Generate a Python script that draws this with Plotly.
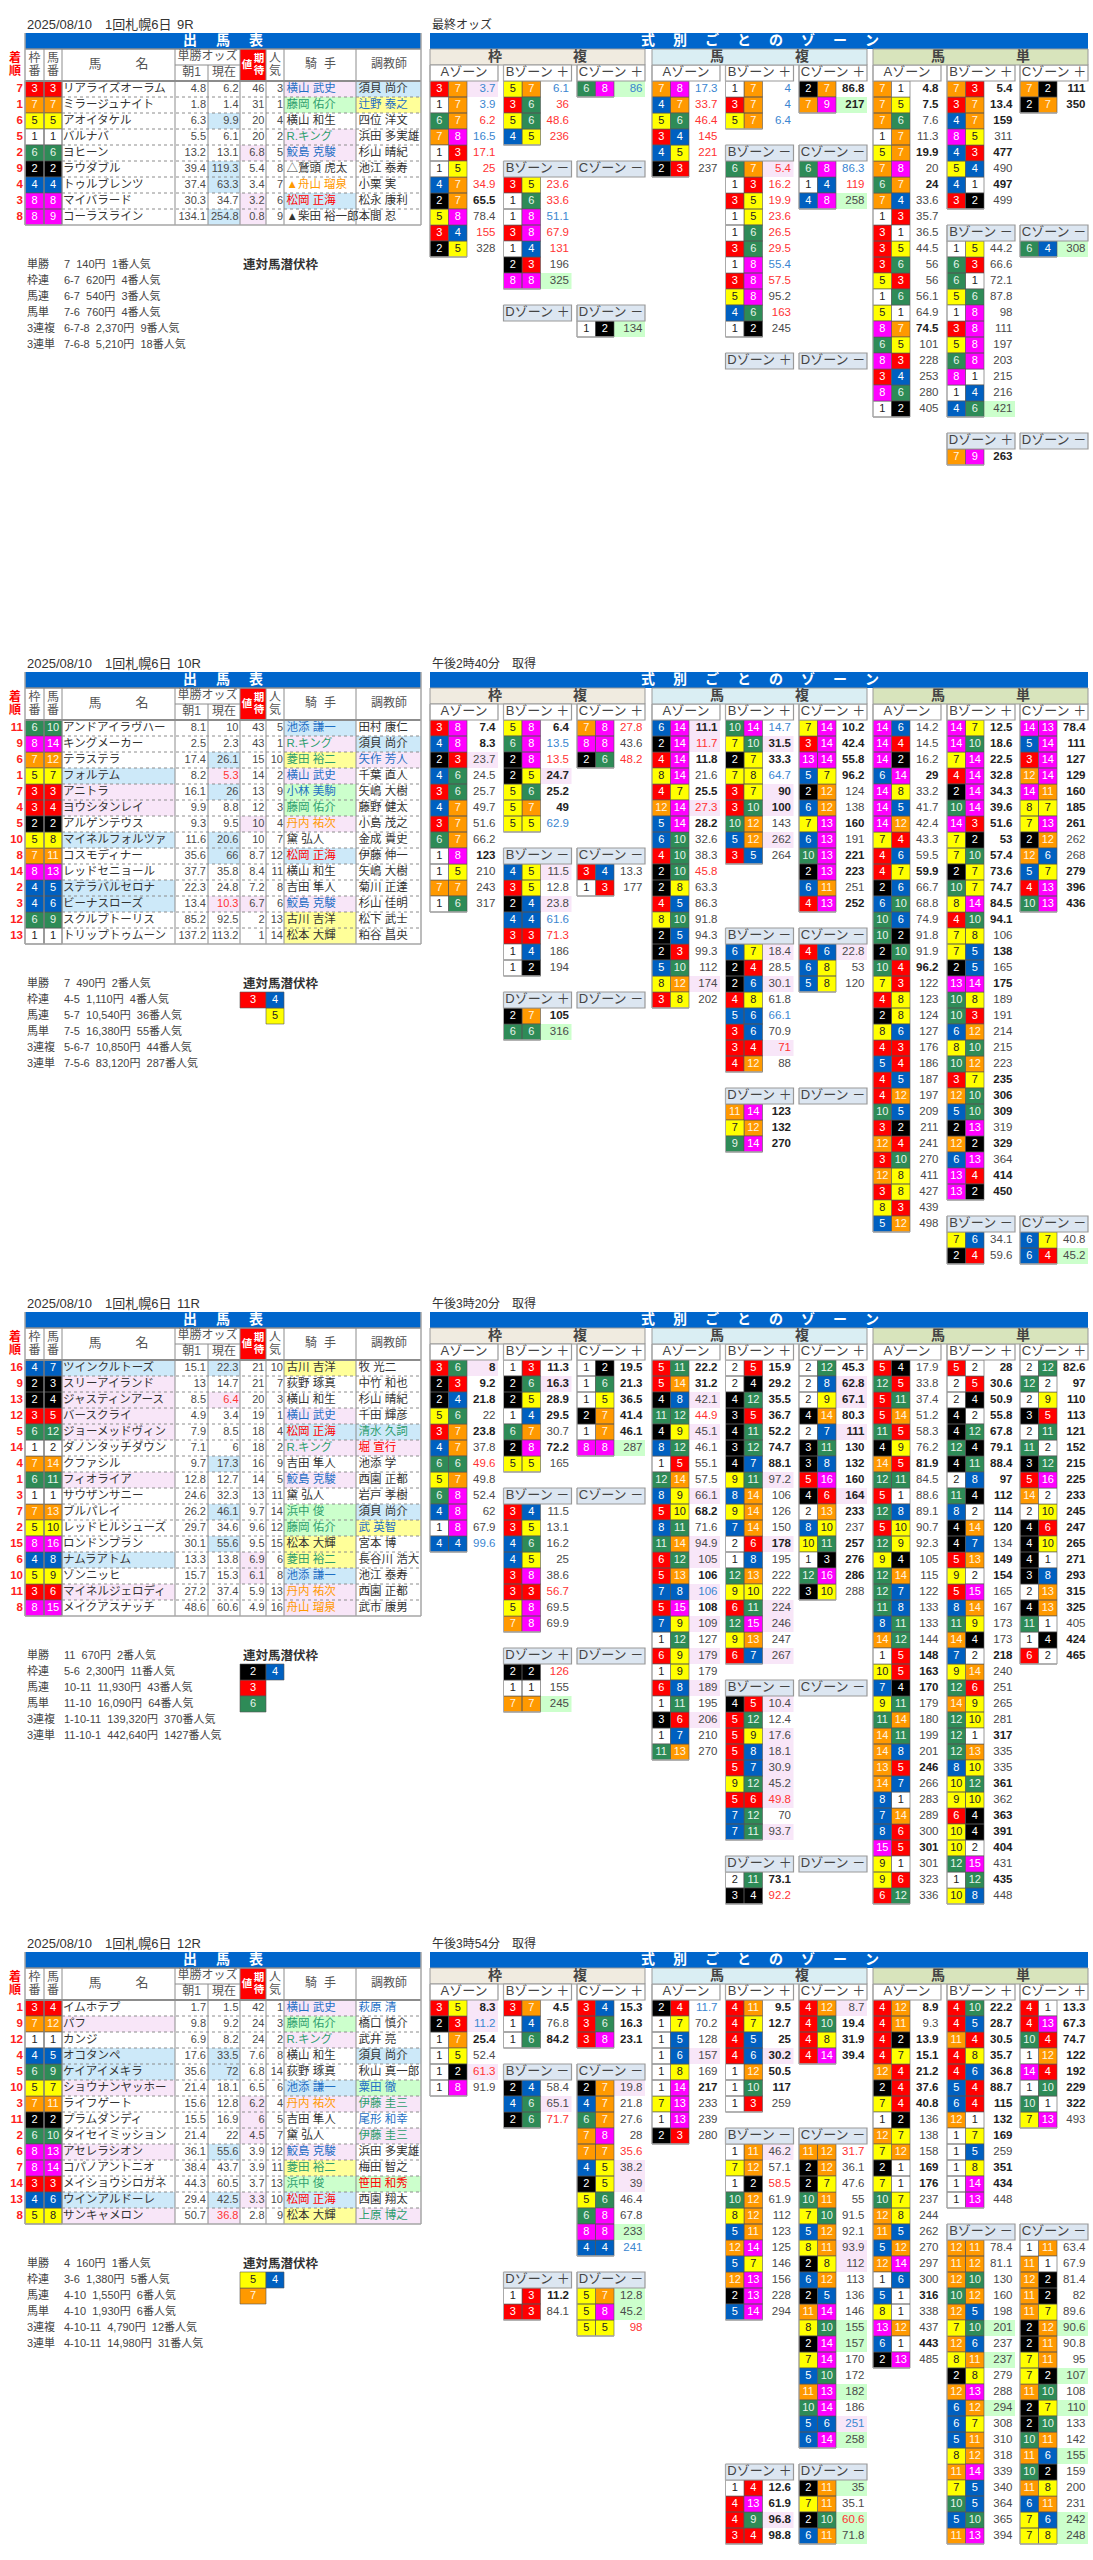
import plotly.graph_objects as go

FONT = "Liberation Sans, Noto Sans CJK JP"
WIDTH = 1093
HEIGHT = 2560
ROW_H = 16
FIRST_ROW_Y = 81
MAX_ZONE_ROWS = 34

RACE_IDS = [9, 10, 11, 12]
PANEL_OFFSETS = [0, 639, 1279, 1919]

PAY_LABELS = ["単勝", "枠連", "馬連", "馬単", "3連複", "3連単"]

# ---- 9R ----
R9_HEAD = ["2025/08/10", "1回札幌6日", "9R", "最終オッズ"]
R9_FINISH = [7, 1, 6, 5, 2, 9, 4, 3, 8]
R9_WAKU = [3, 7, 5, 1, 6, 2, 4, 8, 8]
R9_UMA = [3, 7, 5, 1, 6, 2, 4, 8, 9]
R9_NAME = ["リアライズオーラム", "ミラージュナイト", "アオイタケル", "バルナバ", "ヨヒーン", "ラウダブル", "トゥルブレンツ", "マイバラード", "コーラスライン"]
R9_MORNING = [4.8, 1.8, 6.3, 5.5, 13.2, 39.4, 37.4, 30.3, 134.1]
R9_NOW = [6.2, 1.4, 9.9, 6.1, 13.1, 119.3, 63.3, 34.7, 254.8]
R9_EV = [46, 31, 20, 20, 6.8, 5.4, 3.4, 3.2, 0.8]
R9_POP = [3, 1, 4, 2, 5, 8, 7, 6, 9]
R9_JOCKEY = ["横山 武史", "藤岡 佑介", "横山 和生", "R.キング", "鮫島 克駿", "△鷲頭 虎太", "▲舟山 瑠泉", "松岡 正海", "▲柴田 裕一郎"]
R9_TRAINER = ["須貝 尚介", "辻野 泰之", "四位 洋文", "浜田 多実雄", "杉山 晴紀", "池江 泰寿", "小栗 実", "松永 康利", "本間 忍"]
R9_PAY = ["7 140円 1番人気", "6-7 620円 4番人気", "6-7 540円 3番人気", "7-6 760円 4番人気", "6-7-8 2,370円 9番人気", "7-6-8 5,210円 18番人気"]
R9_HIDDEN = []
R9_NAME_BG = "........."
R9_NOW_BG = "..l..ll.l"
R9_EV_BG = "....p..pp"
R9_JOCKEY_BG = "pg.pp..l."
R9_JOCKEY_FG = "bgkgbkork"
R9_TRAINER_BG = "ly......."
R9_TRAINER_FG = "kbkkkkkkk"

R9_WAKU_A = [(3, 7, 3.7), (1, 7, 3.9), (6, 7, 6.2), (7, 8, 16.5), (1, 3, 17.1), (1, 5, 25), (4, 7, 34.9), (2, 7, 65.5), (5, 8, 78.4), (3, 4, 155), (2, 5, 328)]
R9_WAKU_A_STYLE = "bp b r b r r r k n r n"
R9_WAKU_BP = [(5, 7, 6.1), (3, 6, 36), (5, 6, 48.6), (4, 5, 236)]
R9_WAKU_BP_STYLE = "b r r r"
R9_WAKU_CP = [(6, 8, 86)]
R9_WAKU_CP_STYLE = "bg"
R9_WAKU_BM = [(3, 5, 23.6), (1, 6, 33.6), (1, 8, 51.1), (3, 8, 67.9), (1, 4, 131), (2, 3, 196), (8, 8, 325)]
R9_WAKU_BM_STYLE = "r r b r r n ng"
R9_WAKU_DM = [(1, 2, 134)]
R9_WAKU_DM_STYLE = "ng"

R9_FUKU_A = [(7, 8, 17.3), (4, 7, 33.7), (5, 6, 46.4), (3, 4, 145), (4, 5, 221), (2, 3, 237)]
R9_FUKU_A_STYLE = "b r r r r n"
R9_FUKU_BP = [(1, 7, 4), (3, 7, 4), (5, 7, 6.4)]
R9_FUKU_BP_STYLE = "b b b"
R9_FUKU_CP = [(2, 7, 86.8), (7, 9, 217)]
R9_FUKU_CP_STYLE = "k kg"
R9_FUKU_BM = [(6, 7, 5.4), (1, 3, 16.2), (3, 5, 19.9), (1, 5, 23.6), (1, 6, 26.5), (3, 6, 29.5), (1, 8, 55.4), (3, 8, 57.5), (5, 8, 95.2), (4, 6, 163), (1, 2, 245)]
R9_FUKU_BM_STYLE = "rp r r r r r b r n r n"
R9_FUKU_CM = [(6, 8, 86.3), (1, 4, 119), (4, 8, 258)]
R9_FUKU_CM_STYLE = "b r ng"

R9_TAN_A = [(7, 1, 4.8), (7, 5, 7.5), (7, 6, 7.6), (1, 7, 11.3), (5, 7, 19.9), (7, 8, 20), (6, 7, 24), (7, 4, 33.6), (1, 3, 35.7), (3, 1, 36.5), (3, 5, 44.5), (3, 6, 56), (5, 3, 56), (1, 6, 56.1), (5, 1, 64.9), (8, 7, 74.5), (6, 5, 101), (8, 3, 228), (3, 4, 253), (8, 6, 280), (1, 2, 405)]
R9_TAN_A_STYLE = "k k n n k n k n n n n n n n n k n n n n n"
R9_TAN_BP = [(7, 3, 5.4), (3, 7, 13.4), (4, 7, 159), (8, 5, 311), (4, 3, 477), (5, 4, 490), (4, 1, 497), (3, 2, 499)]
R9_TAN_BP_STYLE = "k k k n k n k n"
R9_TAN_CP = [(7, 2, 111), (2, 7, 350)]
R9_TAN_CP_STYLE = "k k"
R9_TAN_BM = [(1, 5, 44.2), (6, 3, 66.6), (6, 1, 72.1), (5, 6, 87.8), (1, 8, 98), (3, 8, 111), (5, 8, 197), (6, 8, 203), (8, 1, 215), (1, 4, 216), (4, 6, 421)]
R9_TAN_BM_STYLE = "n n n n n n n n n n ng"
R9_TAN_CM = [(6, 4, 308)]
R9_TAN_CM_STYLE = "ng"
R9_TAN_DP = [(7, 9, 263)]
R9_TAN_DP_STYLE = "k"

# ---- 10R ----
R10_HEAD = ["2025/08/10", "1回札幌6日", "10R", "午後2時40分　取得"]
R10_FINISH = [11, 9, 6, 1, 7, 4, 5, 10, 8, 14, 2, 3, 12, 13]
R10_WAKU = [6, 8, 7, 5, 3, 3, 2, 5, 7, 8, 4, 4, 6, 1]
R10_UMA = [10, 14, 12, 7, 3, 4, 2, 8, 11, 13, 5, 6, 9, 1]
R10_NAME = ["アンドアイラヴハー", "キングメーカー", "テラステラ", "フォルテム", "アニトラ", "ヨウシタンレイ", "アルゲンテウス", "マイネルフォルツァ", "コスモディナー", "レッドセニョール", "ステラバルセロナ", "ビーナスローズ", "スクルプトーリス", "トリップトゥムーン"]
R10_MORNING = [8.1, 2.5, 17.4, 8.2, 16.1, 9.9, 9.3, 11.6, 35.6, 37.7, 22.3, 13.4, 85.2, 137.2]
R10_NOW = [10, 2.3, 26.1, 5.3, 26, 8.8, 9.5, 20.6, 66, 35.8, 24.8, 10.3, 92.5, 113.2]
R10_EV = [43, 43, 15, 14, 13, 12, 10, 10, 8.7, 8.4, 7.2, 6.7, 2, 1]
R10_POP = [5, 1, 10, 2, 9, 3, 4, 7, 12, 11, 8, 6, 13, 14]
R10_JOCKEY = ["池添 謙一", "R.キング", "菱田 裕二", "横山 武史", "小林 美駒", "藤岡 佑介", "丹内 祐次", "黛 弘人", "松岡 正海", "横山 和生", "吉田 隼人", "鮫島 克駿", "古川 吉洋", "松本 大輝"]
R10_TRAINER = ["田村 康仁", "須貝 尚介", "矢作 芳人", "千葉 直人", "矢嶋 大樹", "藤野 健太", "小島 茂之", "金成 貴史", "伊藤 伸一", "矢嶋 大樹", "菊川 正達", "杉山 佳明", "松下 武士", "粕谷 昌央"]
R10_PAY = ["7 490円 2番人気", "4-5 1,110円 4番人気", "5-7 10,540円 36番人気", "7-5 16,380円 55番人気", "5-6-7 10,850円 44番人気", "7-5-6 83,120円 287番人気"]
R10_HIDDEN = [[3, 4], [0, 5]]
R10_NAME_BG = "...lpp.l..ll.."
R10_NOW_BG = "..lpl..ll..p.."
R10_EV_BG = "......p....p.."
R10_JOCKEY_BG = "lpypggp.l..pyy"
R10_JOCKEY_FG = "bggbbgokrkkbkk"
R10_TRAINER_BG = ".lp..........."
R10_TRAINER_FG = "kkbkkkkkkkkkkk"

R10_WAKU_A = [(3, 8, 7.4), (4, 8, 8.3), (2, 3, 23.7), (4, 6, 24.5), (3, 6, 25.7), (4, 7, 49.7), (3, 7, 51.6), (6, 7, 66.2), (1, 8, 123), (1, 5, 210), (7, 7, 243), (1, 6, 317)]
R10_WAKU_A_STYLE = "k k np n n n n n k n n n"
R10_WAKU_BP = [(5, 8, 6.4), (6, 8, 13.5), (2, 8, 13.5), (2, 5, 24.7), (5, 6, 25.2), (5, 7, 49), (5, 5, 62.9)]
R10_WAKU_BP_STYLE = "k b r kp k k b"
R10_WAKU_CP = [(7, 8, 27.8), (8, 8, 43.6), (2, 6, 48.2)]
R10_WAKU_CP_STYLE = "r n r"
R10_WAKU_BM = [(4, 5, 11.5), (3, 5, 12.8), (2, 4, 23.8), (4, 4, 61.6), (3, 3, 71.3), (1, 4, 186), (1, 2, 194)]
R10_WAKU_BM_STYLE = "np n np b r n n"
R10_WAKU_CM = [(3, 4, 13.3), (1, 3, 177)]
R10_WAKU_CM_STYLE = "n n"
R10_WAKU_DP = [(2, 7, 105), (6, 6, 316)]
R10_WAKU_DP_STYLE = "k ng"

R10_FUKU_A = [(6, 14, 11.1), (2, 14, 11.7), (4, 14, 11.8), (8, 14, 21.6), (4, 7, 25.5), (12, 14, 27.3), (5, 14, 28.2), (6, 10, 32.6), (4, 10, 38.3), (2, 10, 45.8), (2, 8, 63.3), (4, 5, 86.3), (8, 10, 91.8), (2, 5, 94.3), (2, 3, 99.3), (5, 10, 112), (8, 12, 174), (3, 8, 202)]
R10_FUKU_A_STYLE = "kp rp k n k rp k n n r n n n n n n np n"
R10_FUKU_BP = [(10, 14, 14.7), (7, 10, 31.5), (2, 7, 33.3), (7, 8, 64.7), (3, 7, 90), (3, 10, 100), (10, 12, 143), (5, 12, 262), (3, 5, 264)]
R10_FUKU_BP_STYLE = "b kp k b kp kp n np n"
R10_FUKU_CP = [(7, 14, 10.2), (3, 14, 42.4), (13, 14, 55.8), (5, 7, 96.2), (2, 12, 124), (6, 12, 138), (7, 13, 160), (6, 13, 191), (10, 13, 221), (2, 13, 223), (6, 11, 251), (4, 13, 252)]
R10_FUKU_CP_STYLE = "k k k k n n k n k k n k"
R10_FUKU_BM = [(6, 7, 18.4), (2, 4, 28.5), (2, 6, 30.1), (4, 8, 61.8), (5, 6, 66.1), (3, 6, 70.9), (3, 4, 71), (4, 12, 88)]
R10_FUKU_BM_STYLE = "np n np n b n rp n"
R10_FUKU_CM = [(4, 6, 22.8), (6, 8, 53), (5, 8, 120)]
R10_FUKU_CM_STYLE = "np n n"
R10_FUKU_DP = [(11, 14, 123), (7, 12, 132), (9, 14, 270)]
R10_FUKU_DP_STYLE = "k k k"

R10_TAN_A = [(14, 6, 14.2), (14, 4, 14.5), (14, 2, 16.2), (6, 14, 29), (14, 8, 33.2), (14, 5, 41.7), (14, 12, 42.4), (7, 4, 43.3), (4, 6, 59.5), (4, 7, 59.9), (2, 6, 66.7), (6, 10, 68.8), (10, 6, 74.9), (10, 2, 91.8), (2, 10, 91.9), (10, 4, 96.2), (7, 3, 122), (4, 8, 123), (2, 8, 124), (8, 6, 127), (4, 3, 176), (5, 4, 186), (4, 5, 187), (4, 12, 197), (10, 5, 209), (3, 2, 211), (12, 4, 241), (3, 10, 270), (12, 8, 411), (3, 8, 427), (8, 3, 439), (5, 12, 498)]
R10_TAN_A_STYLE = "n n n k n n n n n k n n n n n k n n n n n n n n n n n n n n n n"
R10_TAN_BP = [(14, 7, 12.5), (14, 10, 18.6), (7, 14, 22.5), (4, 14, 32.8), (2, 14, 34.3), (10, 14, 39.6), (14, 3, 51.6), (7, 2, 53), (7, 10, 57.4), (2, 7, 73.6), (10, 7, 74.7), (8, 14, 84.5), (4, 10, 94.1), (7, 8, 106), (7, 5, 138), (2, 5, 165), (13, 14, 175), (10, 8, 189), (10, 3, 191), (6, 12, 214), (8, 10, 215), (10, 12, 223), (3, 7, 235), (12, 10, 306), (5, 10, 309), (2, 13, 319), (12, 2, 329), (6, 13, 364), (13, 4, 414), (13, 2, 450)]
R10_TAN_BP_STYLE = "k k k k k k k k k k k k k n k n k n n n n n k k k n k n k k"
R10_TAN_CP = [(14, 13, 78.4), (5, 14, 111), (3, 14, 127), (12, 14, 129), (14, 11, 160), (8, 7, 185), (7, 13, 261), (2, 12, 262), (12, 6, 268), (5, 7, 279), (4, 13, 396), (10, 13, 436)]
R10_TAN_CP_STYLE = "k k k k k k k n n k k k"
R10_TAN_BM = [(7, 6, 34.1), (2, 4, 59.6)]
R10_TAN_BM_STYLE = "n n"
R10_TAN_CM = [(6, 7, 40.8), (6, 4, 45.2)]
R10_TAN_CM_STYLE = "n ng"

# ---- 11R ----
R11_HEAD = ["2025/08/10", "1回札幌6日", "11R", "午後3時20分　取得"]
R11_FINISH = [16, 9, 13, 12, 5, 14, 4, 1, 3, 7, 2, 15, 6, 10, 11, 8]
R11_WAKU = [4, 2, 2, 3, 6, 1, 7, 6, 1, 7, 5, 8, 4, 5, 3, 8]
R11_UMA = [7, 3, 4, 5, 12, 2, 14, 11, 1, 13, 10, 16, 8, 9, 6, 15]
R11_NAME = ["ツインクルトーズ", "スリーアイランド", "ジャスティンアース", "バースクライ", "ジョーメッドヴィン", "ダノンタッチダウン", "クファシル", "フィオライア", "サウザンサニー", "ブルパレイ", "レッドヒルシューズ", "ロンドンプラン", "ナムラアトム", "ゾンニッヒ", "マイネルジェロディ", "メイクアスナッチ"]
R11_MORNING = [15.1, 13, 8.5, 4.9, 7.9, 7.1, 9.7, 12.8, 24.6, 26.2, 29.7, 30.1, 13.3, 15.7, 27.2, 48.6]
R11_NOW = [22.3, 14.7, 6.4, 3.4, 8.5, 6, 17.3, 12.7, 32.3, 46.1, 34.6, 55.6, 13.8, 15.3, 37.4, 60.6]
R11_EV = [21, 21, 20, 19, 18, 18, 16, 14, 13, 9.7, 9.6, 9.5, 6.9, 6.1, 5.9, 4.9]
R11_POP = [10, 7, 3, 1, 4, 2, 9, 5, 11, 14, 12, 15, 6, 8, 13, 16]
R11_JOCKEY = ["古川 吉洋", "荻野 琢真", "横山 和生", "横山 武史", "松岡 正海", "R.キング", "吉田 隼人", "鮫島 克駿", "黛 弘人", "浜中 俊", "藤岡 佑介", "松本 大輝", "菱田 裕二", "池添 謙一", "丹内 祐次", "舟山 瑠泉"]
R11_TRAINER = ["牧 光二", "中竹 和也", "杉山 晴紀", "千田 輝彦", "清水 久詞", "堀 宣行", "池添 学", "西園 正都", "岩戸 孝樹", "須貝 尚介", "武 英智", "宮本 博", "長谷川 浩大", "池江 泰寿", "西園 正都", "武市 康男"]
R11_PAY = ["11 670円 2番人気", "5-6 2,300円 11番人気", "10-11 11,930円 43番人気", "11-10 16,090円 64番人気", "1-10-11 139,320円 370番人気", "11-10-1 442,640円 1427番人気"]
R11_HIDDEN = [[2, 4], [3, 0], [6, 0]]
R11_NAME_BG = "lpppp..p....l.p."
R11_NOW_BG = "l.p...l..l.l...."
R11_EV_BG = "............pp.."
R11_JOCKEY_BG = "y..plp.p.ggyylpp"
R11_JOCKEY_FG = "kkkbrgkbkggkgboo"
R11_TRAINER_BG = "....lp...ly....."
R11_TRAINER_FG = "kkkkgrkkkkbkkkkk"

R11_WAKU_A = [(3, 6, 8), (2, 3, 9.2), (2, 4, 21.8), (5, 6, 22), (3, 7, 23.8), (4, 7, 37.8), (6, 6, 49.6), (5, 7, 49.8), (6, 8, 52.4), (4, 8, 62), (1, 8, 67.9), (4, 4, 99.6)]
R11_WAKU_A_STYLE = "kp k k n k n r n n n n b"
R11_WAKU_BP = [(1, 3, 11.3), (2, 6, 16.3), (2, 5, 28.9), (1, 4, 29.5), (6, 7, 30.7), (2, 8, 72.2), (5, 5, 165)]
R11_WAKU_BP_STYLE = "k kp k k n k n"
R11_WAKU_CP = [(1, 2, 19.5), (1, 6, 21.3), (1, 5, 36.5), (2, 7, 41.4), (1, 7, 46.1), (8, 8, 287)]
R11_WAKU_CP_STYLE = "k k k k k ng"
R11_WAKU_BM = [(3, 4, 11.5), (3, 5, 13.1), (4, 6, 16.2), (4, 5, 25), (3, 8, 38.6), (3, 3, 56.7), (5, 8, 69.5), (7, 8, 69.9)]
R11_WAKU_BM_STYLE = "n n n n n r n n"
R11_WAKU_DP = [(2, 2, 126), (1, 1, 155), (7, 7, 245)]
R11_WAKU_DP_STYLE = "r n ng"

R11_FUKU_A = [(5, 11, 22.2), (5, 14, 31.2), (4, 8, 42.1), (11, 12, 44.9), (4, 9, 45.1), (8, 12, 46.1), (1, 5, 55.1), (12, 14, 57.5), (8, 9, 66.1), (5, 10, 68.2), (8, 11, 71.6), (11, 14, 94.9), (6, 12, 105), (5, 13, 106), (7, 8, 106), (5, 15, 108), (7, 9, 109), (1, 12, 127), (6, 9, 179), (1, 9, 179), (6, 8, 189), (1, 11, 195), (3, 6, 206), (1, 7, 210), (11, 13, 270)]
R11_FUKU_A_STYLE = "k k np r np n n n np k n np np k bp k np n np n np n np n n"
R11_FUKU_BP = [(2, 5, 15.9), (2, 4, 29.2), (4, 12, 35.5), (3, 5, 36.7), (4, 11, 52.2), (3, 12, 74.7), (4, 7, 88.1), (9, 11, 97.2), (8, 14, 106), (9, 14, 126), (7, 14, 150), (2, 6, 178), (1, 8, 195), (12, 13, 222), (9, 10, 222), (6, 11, 224), (12, 15, 246), (9, 13, 247), (6, 7, 267)]
R11_FUKU_BP_STYLE = "k k k k k k k np n n n kp n n n np np n np"
R11_FUKU_CP = [(2, 12, 45.3), (2, 8, 62.8), (2, 9, 67.1), (4, 14, 80.3), (2, 7, 111), (3, 11, 130), (3, 8, 132), (5, 16, 160), (4, 6, 164), (2, 13, 233), (8, 10, 237), (10, 11, 257), (1, 3, 276), (12, 16, 286), (3, 10, 288)]
R11_FUKU_CP_STYLE = "k kp kp k kp k k k kp k n k k k n"
R11_FUKU_BM = [(4, 5, 10.4), (5, 12, 12.4), (5, 9, 17.6), (5, 8, 18.1), (5, 7, 30.9), (9, 12, 45.2), (5, 6, 49.8), (7, 12, 70), (7, 11, 93.7)]
R11_FUKU_BM_STYLE = "np n np np np np rp n np"
R11_FUKU_DP = [(2, 11, 73.1), (3, 4, 92.2)]
R11_FUKU_DP_STYLE = "k r"

R11_TAN_A = [(5, 4, 17.9), (12, 5, 33.8), (5, 11, 37.4), (5, 14, 51.2), (11, 5, 58.3), (4, 9, 76.2), (14, 5, 81.9), (12, 11, 84.5), (5, 1, 88.6), (12, 8, 89.1), (5, 10, 90.7), (12, 9, 92.3), (9, 4, 105), (12, 14, 115), (12, 7, 122), (11, 8, 133), (8, 11, 133), (14, 12, 144), (1, 5, 148), (10, 5, 163), (7, 4, 170), (9, 11, 179), (11, 14, 180), (14, 11, 199), (14, 8, 201), (13, 5, 246), (14, 7, 266), (8, 1, 283), (7, 14, 289), (8, 6, 300), (15, 5, 301), (9, 1, 301), (9, 6, 323), (6, 12, 336)]
R11_TAN_A_STYLE = "n n n n n n k n n n n n n n n n n n k k k n n n n k n n n n k n n n"
R11_TAN_BP = [(5, 2, 28), (2, 5, 30.6), (2, 4, 50.9), (4, 2, 55.8), (4, 12, 67.8), (12, 4, 79.1), (4, 11, 88.4), (2, 8, 97), (11, 4, 112), (8, 2, 114), (4, 14, 120), (4, 7, 134), (5, 13, 149), (9, 2, 154), (5, 15, 165), (8, 14, 167), (11, 9, 173), (14, 4, 173), (7, 2, 218), (9, 14, 240), (12, 6, 251), (14, 9, 265), (12, 10, 281), (12, 1, 317), (12, 13, 335), (8, 10, 335), (10, 12, 361), (9, 10, 362), (6, 4, 363), (10, 4, 391), (10, 2, 404), (12, 15, 431), (1, 12, 435), (10, 8, 448)]
R11_TAN_BP_STYLE = "k k k k k k k k k k k n k k n n n n k n n n n k n n k n k k k n k n"
R11_TAN_CP = [(2, 12, 82.6), (12, 2, 97), (2, 9, 110), (3, 5, 113), (2, 11, 121), (11, 2, 152), (3, 12, 215), (5, 16, 225), (14, 2, 233), (2, 10, 245), (4, 6, 247), (4, 10, 265), (4, 1, 271), (3, 8, 293), (2, 13, 315), (4, 13, 325), (11, 1, 405), (1, 4, 424), (6, 2, 465)]
R11_TAN_CP_STYLE = "k k k k k k k k k k k k k k k k n k k"

# ---- 12R ----
R12_HEAD = ["2025/08/10", "1回札幌6日", "12R", "午後3時54分　取得"]
R12_FINISH = [1, 9, 12, 4, 5, 10, 3, 11, 2, 6, 7, 14, 13, 8]
R12_WAKU = [3, 7, 1, 4, 6, 5, 7, 2, 6, 8, 8, 3, 4, 5]
R12_UMA = [4, 12, 1, 5, 9, 7, 11, 2, 10, 13, 14, 3, 6, 8]
R12_NAME = ["イムホテプ", "パフ", "カンジ", "オコタンペ", "ケイアイメキラ", "ショウナンヤッホー", "ライフゲート", "プラムダンディ", "タイセイミッション", "アセレラシオン", "コパノアントニオ", "メイショウシロガネ", "ウインアルドーレ", "サンキャメロン"]
R12_MORNING = [1.7, 9.8, 6.9, 17.6, 35.6, 21.4, 15.6, 15.5, 21.4, 36.1, 38.4, 44.3, 29.4, 50.7]
R12_NOW = [1.5, 9.2, 8.2, 33.5, 72, 18.1, 12.8, 16.9, 22, 55.6, 43.7, 60.5, 42.5, 36.8]
R12_EV = [42, 24, 24, 7.6, 6.8, 6.5, 6.2, 6, 4.5, 3.9, 3.9, 3.7, 3.3, 2.8]
R12_POP = [1, 3, 2, 8, 14, 6, 4, 5, 7, 12, 11, 13, 10, 9]
R12_JOCKEY = ["横山 武史", "藤岡 佑介", "R.キング", "横山 和生", "荻野 琢真", "池添 謙一", "丹内 祐次", "吉田 隼人", "黛 弘人", "鮫島 克駿", "菱田 裕二", "浜中 俊", "松岡 正海", "松本 大輝"]
R12_TRAINER = ["萩原 清", "橋口 慎介", "武井 亮", "須貝 尚介", "秋山 真一郎", "粟田 徹", "伊藤 圭三", "尾形 和幸", "伊藤 圭三", "浜田 多実雄", "梅田 智之", "笹田 和秀", "西園 翔太", "上原 博之"]
R12_PAY = ["4 160円 1番人気", "3-6 1,380円 5番人気", "4-10 1,550円 6番人気", "4-10 1,930円 6番人気", "4-10-11 4,790円 12番人気", "4-10-11 14,980円 31番人気"]
R12_HIDDEN = [[5, 4], [7, 0]]
R12_NAME_BG = ".p.llp...p..lp"
R12_NOW_BG = "...ll....l..lp"
R12_EV_BG = "......ppp...p."
R12_JOCKEY_BG = "pgp..lp..pygly"
R12_JOCKEY_FG = "bggkkbokkbggrk"
R12_TRAINER_BG = "...l.gp.p..g.p"
R12_TRAINER_FG = "bkkkkbgbgkkrkg"

R12_WAKU_A = [(3, 5, 8.3), (2, 3, 11.2), (1, 7, 25.4), (1, 5, 52.4), (1, 2, 61.3), (1, 8, 91.9)]
R12_WAKU_A_STYLE = "kp bp k n rp n"
R12_WAKU_BP = [(3, 7, 4.5), (1, 4, 76.8), (1, 6, 84.2)]
R12_WAKU_BP_STYLE = "k n k"
R12_WAKU_CP = [(3, 4, 15.3), (3, 6, 16.3), (3, 8, 23.1)]
R12_WAKU_CP_STYLE = "k k k"
R12_WAKU_BM = [(2, 4, 58.4), (4, 6, 65.1), (2, 6, 71.7)]
R12_WAKU_BM_STYLE = "n np r"
R12_WAKU_CM = [(2, 7, 19.8), (4, 7, 21.8), (6, 7, 27.6), (7, 8, 28), (7, 7, 35.6), (4, 5, 38.2), (2, 5, 39), (5, 6, 46.4), (6, 8, 67.8), (8, 8, 233), (4, 4, 241)]
R12_WAKU_CM_STYLE = "np n n n r np np n n ng b"
R12_WAKU_DP = [(1, 3, 11.2), (3, 3, 84.1)]
R12_WAKU_DP_STYLE = "k n"
R12_WAKU_DM = [(5, 7, 12.8), (5, 8, 45.2), (5, 5, 98)]
R12_WAKU_DM_STYLE = "ng ng r"

R12_FUKU_A = [(2, 4, 11.7), (1, 7, 70.2), (1, 5, 128), (1, 6, 157), (1, 8, 169), (1, 14, 217), (7, 13, 233), (1, 13, 239), (2, 3, 280)]
R12_FUKU_A_STYLE = "b n n np n k n n n"
R12_FUKU_BP = [(4, 11, 9.5), (4, 7, 12.7), (4, 5, 25), (4, 6, 30.2), (1, 12, 50.5), (1, 10, 117), (1, 3, 259)]
R12_FUKU_BP_STYLE = "k k k kp k k n"
R12_FUKU_CP = [(4, 12, 8.7), (4, 10, 19.4), (4, 8, 31.9), (4, 14, 39.4)]
R12_FUKU_CP_STYLE = "np k k k"
R12_FUKU_BM = [(1, 11, 46.2), (7, 12, 57.1), (1, 2, 58.5), (10, 12, 61.9), (8, 12, 112), (5, 11, 123), (12, 14, 125), (5, 7, 146), (12, 13, 156), (2, 13, 228), (5, 14, 294)]
R12_FUKU_BM_STYLE = "np n r n n n n n n n n"
R12_FUKU_CM = [(11, 12, 31.7), (2, 12, 36.1), (2, 7, 47.6), (10, 11, 55), (7, 10, 91.5), (5, 12, 92.1), (8, 11, 93.9), (2, 8, 112), (6, 12, 113), (2, 5, 136), (11, 14, 146), (8, 10, 155), (2, 14, 157), (7, 14, 170), (5, 10, 172), (11, 13, 182), (10, 14, 186), (5, 6, 251), (6, 14, 258)]
R12_FUKU_CM_STYLE = "r n n n n n np np n n n ng ng n n ng n bp ng"
R12_FUKU_DP = [(1, 4, 12.6), (4, 13, 61.9), (4, 9, 96.8), (3, 4, 98.8)]
R12_FUKU_DP_STYLE = "k k kp k"
R12_FUKU_DM = [(2, 11, 35), (7, 11, 35.1), (2, 10, 60.6), (6, 11, 71.8)]
R12_FUKU_DM_STYLE = "ng n rg ng"

R12_TAN_A = [(4, 12, 8.9), (4, 11, 9.3), (4, 2, 13.9), (4, 7, 15.1), (12, 4, 21.2), (2, 4, 37.6), (7, 4, 40.8), (1, 2, 136), (12, 7, 138), (7, 12, 158), (2, 1, 169), (7, 1, 176), (10, 7, 237), (12, 8, 244), (11, 5, 262), (5, 12, 270), (12, 14, 297), (1, 6, 300), (5, 1, 316), (8, 1, 338), (13, 12, 437), (6, 1, 443), (2, 13, 485)]
R12_TAN_A_STYLE = "k n k k k k k n n n k k n n n n n n k n n k n"
R12_TAN_BP = [(4, 10, 22.2), (4, 5, 28.7), (11, 4, 30.5), (4, 8, 35.7), (4, 6, 36.8), (5, 4, 88.7), (6, 4, 115), (12, 1, 132), (1, 7, 169), (1, 5, 259), (1, 8, 351), (1, 14, 434), (1, 13, 448)]
R12_TAN_BP_STYLE = "k k k k k k k k k n k k n"
R12_TAN_CP = [(4, 1, 13.3), (4, 13, 67.3), (10, 4, 74.7), (1, 12, 122), (14, 4, 192), (1, 10, 229), (10, 1, 322), (7, 13, 493)]
R12_TAN_CP_STYLE = "k k k k k k k n"
R12_TAN_BM = [(12, 11, 78.4), (11, 12, 81.1), (12, 10, 130), (10, 12, 160), (12, 5, 198), (7, 10, 201), (12, 6, 237), (8, 11, 237), (2, 8, 279), (12, 13, 288), (6, 12, 294), (6, 7, 308), (5, 11, 310), (8, 12, 318), (11, 14, 339), (7, 5, 340), (10, 5, 364), (5, 10, 365), (11, 13, 394)]
R12_TAN_BM_STYLE = "n n n n n ng n ng n n ng n n n n n n n n"
R12_TAN_CM = [(1, 11, 63.4), (11, 1, 67.9), (12, 2, 81.4), (11, 2, 82), (11, 7, 89.6), (2, 12, 90.6), (2, 11, 90.8), (7, 11, 95), (7, 2, 107), (11, 10, 108), (2, 7, 110), (2, 10, 133), (10, 11, 142), (11, 6, 155), (10, 2, 159), (11, 8, 200), (6, 11, 231), (7, 6, 242), (7, 8, 248)]
R12_TAN_CM_STYLE = "n n n n n ng n n ng n ng n n ng n n n ng ng"

# frame number -> (cell colour, number colour)
FRAME_COLORS = {
    1: ("#ffffff", "#222222"),
    2: ("#000000", "#ffffff"),
    3: ("#ff0000", "#ffffff"),
    4: ("#0060c0", "#ffffff"),
    5: ("#ffff00", "#222222"),
    6: ("#2e8b57", "#e8f4ec"),
    7: ("#ff9900", "#fff4e0"),
    8: ("#ff00ff", "#ffffff"),
}
SHADE = {"p": "#f8e6f8", "l": "#cde9f9", "g": "#ccffcc", "y": "#ffff99"}
NAME_FG = {"k": "#333333", "b": "#1f6fc4", "g": "#2e9e6e", "r": "#ff0000", "o": "#ff9900"}
ODDS_FG = {"n": "#4a4a4a", "k": "#222222", "r": "#ff3333", "b": "#3a86d0"}

BLUE = "#0066cc"
GRID = "#8c8c8c"
BORDER = "#a6a6a6"

# plotly names the side of the point the text sits on, so left-aligned text is "middle right"
ALIGN = {"left": "middle right", "right": "middle left", "center": "middle center"}

# table columns
X_TABLE_L = 25
X_WAKU = 44
X_UMA = 62
X_NAME = 175
X_MORNING = 208
X_NOW = 240
X_EV = 266
X_POP = 284
X_JOCKEY = 356
X_TABLE_R = 421

# zone columns
ZONE_L = 430
ZONE_R = 1088
ZONE_X = {"WAKU": [430, 503.5, 577], "FUKU": [652, 725.5, 799], "TAN": [873, 947, 1020]}
ZONE_BAND = {"WAKU": ("#f0ebe0", [("枠", 495), ("複", 580)]),
             "FUKU": ("#daeef3", [("馬", 717), ("複", 802)]),
             "TAN": ("#d8e4bc", [("馬", 938), ("単", 1023)])}
CELL_W = 18.5
VALUE_W = 31
BLOCK_W = CELL_W * 2 + VALUE_W

rects = {}
lines = {}
texts = {}


def rect(x0, y0, x1, y1, fill, line=None, width=0):
    xs, ys = rects.setdefault((fill, line, width), ([], []))
    xs += [x0, x1, x1, x0, x0, None]
    ys += [y0, y0, y1, y1, y0, None]


def seg(x0, y0, x1, y1, color=GRID, width=1, dash="solid"):
    xs, ys = lines.setdefault((color, width, dash), ([], []))
    xs += [x0, x1, None]
    ys += [y0, y1, None]


def put(x, y, s, size=11, color="#333333", bold=False, align="center"):
    xs, ys, ss = texts.setdefault((size, color, bold, align), ([], [], []))
    xs.append(x)
    ys.append(y)
    ss.append(str(s))


def data(race, name):
    return globals()[f"R{race}_{name}"]


def frame_cell(x0, y0, x1, y1, frame, label):
    fill, fg = FRAME_COLORS[frame]
    rect(x0, y0, x1, y1, fill, "#555555", 0.6)
    put((x0 + x1) / 2, (y0 + y1) / 2 + 0.5, label, 11, fg)


def draw_table(race, off):
    top = FIRST_ROW_Y + off
    n = len(data(race, "UMA"))
    bottom = top + n * ROW_H
    head = data(race, "HEAD")

    put(27, off + 26, head[0], 13, "#333333", align="left")
    put(105, off + 26, head[1], 13, "#333333", align="left")
    put(177, off + 26, head[2], 13, "#333333", align="left")

    rect(X_TABLE_L, off + 33, X_TABLE_R, off + 49, BLUE)
    for ch, x in [("出", 190), ("馬", 223), ("表", 256)]:
        put(x, off + 41.5, ch, 14, "#ffffff", True)

    # header row
    y1, y2 = off + 59, off + 72
    put(15, y1, "着", 12, "#ff0000", True)
    put(15, y2, "順", 12, "#ff0000", True)
    put(34.5, y1, "枠", 12, "#555555")
    put(34.5, y2, "番", 12, "#555555")
    put(53, y1, "馬", 12, "#555555")
    put(53, y2, "番", 12, "#555555")
    put(95, off + 65, "馬", 13, "#555555")
    put(142, off + 65, "名", 13, "#555555")
    put(207.5, off + 57, "単勝オッズ", 12, "#555555")
    put(191.5, off + 73, "朝1", 12, "#555555")
    put(224, off + 73, "現在", 12, "#555555")
    rect(X_NOW, off + 49, X_EV, off + 81, "#ff0000")
    put(259, y1, "期", 10.5, "#ffffff", True)
    put(259, y2 - 1, "待", 10.5, "#ffffff", True)
    put(247, off + 65, "値", 10.5, "#ffffff", True)
    put(275, y1, "人", 12, "#555555")
    put(275, y2, "気", 12, "#555555")
    put(311, off + 65, "騎", 12, "#555555")
    put(330, off + 65, "手", 12, "#555555")
    put(389, off + 65, "調教師", 12, "#555555")

    # body shading
    shades = [("NAME_BG", X_UMA, X_NAME), ("NOW_BG", X_MORNING, X_NOW), ("EV_BG", X_NOW, X_EV),
              ("JOCKEY_BG", X_POP, X_JOCKEY), ("TRAINER_BG", X_JOCKEY, X_TABLE_R)]
    for key, x0, x1 in shades:
        for i, code in enumerate(data(race, key)):
            if code in SHADE:
                rect(x0, top + i * ROW_H, x1, top + (i + 1) * ROW_H, SHADE[code])

    # grid
    for i in range(1, n):
        seg(X_UMA, top + i * ROW_H, X_TABLE_R, top + i * ROW_H, GRID, 1, "dot")
    seg(X_TABLE_L, off + 81, X_TABLE_R, off + 81, GRID, 2)
    seg(X_NAME, off + 65, X_NOW, off + 65, GRID, 1)
    seg(X_TABLE_L, off + 49, X_TABLE_R, off + 49, GRID, 1.5)
    for x in [X_WAKU, X_UMA, X_NAME, X_NOW, X_EV, X_POP, X_JOCKEY]:
        seg(x, off + 49, x, bottom, GRID, 1)
    seg(X_MORNING, off + 65, X_MORNING, bottom, GRID, 1)
    seg(X_TABLE_L, off + 33, X_TABLE_L, bottom, BORDER, 1.5)
    seg(X_TABLE_R, off + 33, X_TABLE_R, bottom, BORDER, 1.5)
    seg(X_TABLE_L, bottom, X_TABLE_R, bottom, BORDER, 1.5)

    # body rows
    now_bg = data(race, "NOW_BG")
    j_fg = data(race, "JOCKEY_FG")
    t_fg = data(race, "TRAINER_FG")
    for i in range(n):
        y0 = top + i * ROW_H
        ym = y0 + ROW_H / 2 + 0.5
        put(23, ym, data(race, "FINISH")[i], 11.5, "#ff2020", True, "right")
        frame = data(race, "WAKU")[i]
        frame_cell(X_TABLE_L, y0, X_WAKU, y0 + ROW_H, frame, frame)
        frame_cell(X_WAKU, y0, X_UMA, y0 + ROW_H, frame, data(race, "UMA")[i])
        put(63, ym, data(race, "NAME")[i], 11.5, "#333333", align="left")
        put(X_MORNING - 2, ym, data(race, "MORNING")[i], 11, "#4a4a4a", align="right")
        put(X_NOW - 1.5, ym, data(race, "NOW")[i], 11, "#ff3333" if now_bg[i] == "p" else "#4a4a4a", align="right")
        put(X_EV - 1.5, ym, data(race, "EV")[i], 11, "#4a4a4a", align="right")
        put(X_POP - 1, ym, data(race, "POP")[i], 11, "#4a4a4a", align="right")
        put(X_POP + 2.5, ym, data(race, "JOCKEY")[i], 11.5, NAME_FG[j_fg[i]], align="left")
        put(X_JOCKEY + 2.5, ym, data(race, "TRAINER")[i], 11.5, NAME_FG[t_fg[i]], align="left")

    # payouts and hidden frames
    first = top + (n + 2) * ROW_H
    for i, (label, pay) in enumerate(zip(PAY_LABELS, data(race, "PAY"))):
        ym = first + i * ROW_H + 8.5
        put(27, ym, label, 11, "#444444", align="left")
        put(64, ym, pay.replace(" ", "\u00a0\u00a0"), 11, "#444444", align="left")
    put(243, first + 8.5, "連対馬潜伏枠", 12.5, "#333333", True, "left")
    for i, pair in enumerate(data(race, "HIDDEN")):
        y0 = first + (i + 1) * ROW_H
        if pair[0]:
            frame_cell(X_NOW, y0, X_EV, y0 + ROW_H, pair[0], pair[0])
        if pair[1]:
            frame_cell(X_EV, y0, X_POP, y0 + ROW_H, pair[1], pair[1])


def draw_zone_block(race, kind, zone, title, x, head_row, top, uma_to_waku):
    # returns the number of rows the block holds
    head_y = top + head_row * ROW_H
    if head_row >= MAX_ZONE_ROWS:
        return 0
    light = zone in ("BM", "CM", "DP", "DM")
    rect(x, head_y, x + BLOCK_W, head_y + ROW_H, "#dce6f1" if light else "#ffffff", "#999999", 1.2)
    put(x + BLOCK_W / 2, head_y + ROW_H / 2, title, 13, "#444444")

    rows = globals().get(f"R{race}_{kind}_{zone}", [])
    styles = globals().get(f"R{race}_{kind}_{zone}_STYLE", "").split()
    for i, (a, b, odds) in enumerate(rows):
        r = head_row + 1 + i
        if r >= MAX_ZONE_ROWS:
            break
        y0 = top + r * ROW_H
        style = styles[i] if i < len(styles) else "n"
        fa, fb = (a, b) if kind == "WAKU" else (uma_to_waku[a], uma_to_waku[b])
        if style[1:]:
            rect(x + 2 * CELL_W, y0, x + BLOCK_W, y0 + ROW_H, SHADE[style[1:]])
        frame_cell(x, y0, x + CELL_W, y0 + ROW_H, fa, a)
        frame_cell(x + CELL_W, y0, x + 2 * CELL_W, y0 + ROW_H, fb, b)
        put(x + BLOCK_W - 2.5, y0 + ROW_H / 2 + 0.5, odds, 11.5, ODDS_FG[style[0]], style[0] == "k", "right")
    if rows:
        last = min(head_row + 1 + len(rows), MAX_ZONE_ROWS)
        seg(x, head_y, x, top + last * ROW_H, "#aaaaaa", 1)
        seg(x, top + last * ROW_H, x + 2 * CELL_W, top + last * ROW_H, "#aaaaaa", 1.5)
    return len(rows)


def draw_zones(race, off):
    top = FIRST_ROW_Y + off
    put(432, off + 26, data(race, "HEAD")[3], 12, "#333333", align="left")
    rect(ZONE_L, off + 33, ZONE_R, off + 49, BLUE)
    for i, ch in enumerate("式別ごとのゾーン"):
        put(648 + i * 32, off + 41, ch, 14, "#ffffff", True)

    uma_to_waku = dict(zip(data(race, "UMA"), data(race, "WAKU")))
    for kind, xs in ZONE_X.items():
        fill, labels = ZONE_BAND[kind]
        rect(xs[0], off + 49, xs[2] + BLOCK_W, off + 65, fill, "#999999", 1)
        for ch, x in labels:
            put(x, off + 57.5, ch, 14, "#444444", True)

        draw_zone_block(race, kind, "A", "Aゾーン", xs[0], -1, top, uma_to_waku)
        nb = draw_zone_block(race, kind, "BP", "Bゾーン ＋", xs[1], -1, top, uma_to_waku)
        nc = draw_zone_block(race, kind, "CP", "Cゾーン ＋", xs[2], -1, top, uma_to_waku)
        head2 = max(nb, nc) + 1
        nb = draw_zone_block(race, kind, "BM", "Bゾーン －", xs[1], head2, top, uma_to_waku)
        nc = draw_zone_block(race, kind, "CM", "Cゾーン －", xs[2], head2, top, uma_to_waku)
        head3 = head2 + max(nb, nc) + 2
        draw_zone_block(race, kind, "DP", "Dゾーン ＋", xs[1], head3, top, uma_to_waku)
        draw_zone_block(race, kind, "DM", "Dゾーン －", xs[2], head3, top, uma_to_waku)


for race, off in zip(RACE_IDS, PANEL_OFFSETS):
    draw_table(race, off)
    draw_zones(race, off)

fig = go.Figure()
for (fill, line, width), (xs, ys) in rects.items():
    fig.add_trace(go.Scatter(x=xs, y=ys, mode="lines", fill="toself", fillcolor=fill,
                             line=dict(color=line or fill, width=width), hoverinfo="skip"))
for (color, width, dash), (xs, ys) in lines.items():
    fig.add_trace(go.Scatter(x=xs, y=ys, mode="lines", line=dict(color=color, width=width, dash=dash),
                             hoverinfo="skip"))
for (size, color, bold, align), (xs, ys, ss) in texts.items():
    fig.add_trace(go.Scatter(x=xs, y=ys, text=ss, mode="text", textposition=ALIGN[align],
                             textfont=dict(family=FONT, size=size, color=color, weight="bold" if bold else "normal"),
                             hoverinfo="skip"))

fig.update_layout(
    width=WIDTH, height=HEIGHT, showlegend=False,
    margin=dict(l=0, r=0, t=0, b=0),
    paper_bgcolor="#ffffff", plot_bgcolor="#ffffff",
    xaxis=dict(range=[0, WIDTH], visible=False, fixedrange=True),
    yaxis=dict(range=[HEIGHT, 0], visible=False, fixedrange=True),
)
fig.write_html("out.html", config={"displayModeBar": False},
               post_script="document.body.style.margin='0';document.body.style.overflow='hidden';")
